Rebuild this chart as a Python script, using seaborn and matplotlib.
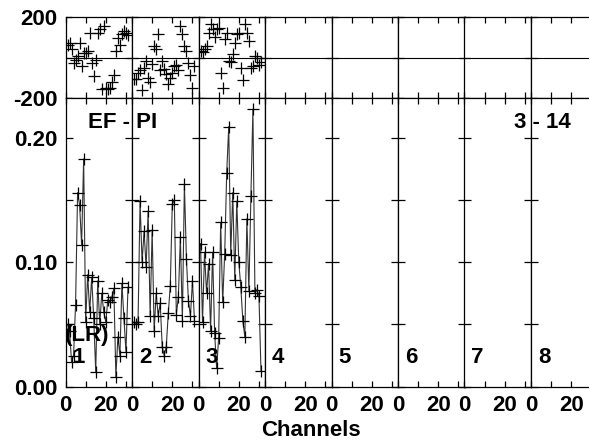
import numpy as np
import pandas as pd
import seaborn as sns
import matplotlib.pyplot as plt

# channel numbers per IF panel
channels = list(range(1, 32))

# amplitudes (bottom row), IF 1-3
amp_if1 = [0.050, 0.045, 0.020, 0.025, 0.066, 0.156, 0.146, 0.114, 0.183, 0.052,
           0.090, 0.060, 0.088, 0.055, 0.012, 0.085, 0.050, 0.075, 0.060, 0.052,
           0.070, 0.068, 0.072, 0.079, 0.008, 0.040, 0.025, 0.083, 0.055, 0.028, 0.080]
amp_if2 = [0.052, 0.050, 0.052, 0.149, 0.100, 0.125, 0.096, 0.141, 0.057, 0.126,
           0.045, 0.075, 0.057, 0.067, 0.032, 0.025, 0.032, 0.059, 0.081, 0.147,
           0.150, 0.058, 0.072, 0.120, 0.053, 0.163, 0.103, 0.069, 0.057, 0.085, 0.053]
amp_if3 = [0.115, 0.052, 0.108, 0.075, 0.099, 0.045, 0.108, 0.043, 0.015, 0.039,
           0.132, 0.068, 0.107, 0.172, 0.209, 0.106, 0.156, 0.086, 0.149, 0.100,
           0.080, 0.053, 0.040, 0.135, 0.077, 0.153, 0.223, 0.075, 0.078, 0.073, 0.013]

# phases (top row), IF 1-3
ph_if1 = [60, 72, 40, -26, -10, 7, 72, -40, 23, 23, 30, 122, -26, -92, -10, 122,
          142, -158, 158, -150, -158, -150, -120, -84, 31, 97, 60, 114, 130, 122, 110]
ph_if2 = [-105, -105, -76, -64, -161, -51, -18, -100, -122, -30, 59, 40, 118, -60,
          -18, -59, -80, -133, -100, -79, -43, -35, -60, 158, 114, 56, 31, -26, -84, -150, -40]
ph_if3 = [31, 25, 40, 56, 122, 163, 142, 100, 140, 147, -76, -150, 92, 120, -18,
          -23, 15, 72, 114, 122, -51, -109, 163, 122, 80, -51, -43, 7, -2, -35, -20]

amps = [amp_if1, amp_if2, amp_if3]
phases = [ph_if1, ph_if2, ph_if3]
n_panels = 8

sns.set_style("ticks")
plt.rcParams['font.family'] = ['Liberation Sans', 'DejaVu Sans']
plt.rcParams['font.weight'] = 'bold'
for key in ['text.color', 'axes.labelcolor', 'xtick.color', 'ytick.color', 'axes.edgecolor']:
    plt.rcParams[key] = 'black'

FS = 16
W, H = 589, 440
fig = plt.figure(figsize=(W / 100, H / 100), dpi=100)

x0 = 65.5
pw = 66.5
top_y0, top_y1 = 17, 98
bot_y0, bot_y1 = 98, 386.7

for i in range(n_panels):
    left = (x0 + i * pw) / W
    ax_t = fig.add_axes([left, (H - top_y1) / H, pw / W, (top_y1 - top_y0) / H])
    ax_b = fig.add_axes([left, (H - bot_y1) / H, pw / W, (bot_y1 - bot_y0) / H])

    if i < len(amps):
        df = pd.DataFrame({'ch': channels, 'amp': amps[i], 'phase': phases[i]})
        sns.scatterplot(data=df, x='ch', y='phase', marker='+', s=80,
                        color='black', linewidth=0.9, ax=ax_t, legend=False)
        sns.lineplot(data=df, x='ch', y='amp', color='#333333', linewidth=0.8,
                     marker='+', markersize=9, markeredgecolor='black',
                     markeredgewidth=0.9, ax=ax_b, legend=False)

    ax_t.axhline(0, color='black', linewidth=0.8)

    for ax in (ax_t, ax_b):
        ax.set_xlim(0, 33)
        ax.set_xlabel('')
        ax.set_ylabel('')
        ax.set_xticks([0, 10, 20, 30])
        for s in ax.spines.values():
            s.set_visible(True)
            s.set_linewidth(0.9)
            s.set_color('black')
        ax.tick_params(axis='both', direction='in', top=True, bottom=True,
                       left=True, right=True, width=0.9, color='black',
                       labelcolor='black', labelsize=FS)

    ax_t.set_ylim(-200, 200)
    ax_t.set_yticks([-200, 0, 200])
    ax_t.tick_params(axis='x', length=4, labelbottom=False)
    ax_t.tick_params(axis='y', length=4, pad=6)

    ax_b.set_ylim(0, 0.232)
    ax_b.set_yticks([0, 0.05, 0.10, 0.15, 0.20])
    ax_b.tick_params(axis='x', length=4, pad=6)
    ax_b.tick_params(axis='y', length=5, pad=6)
    ax_b.set_xticklabels(['0', '', '20', ''], fontweight='bold')

    if i == 0:
        ax_t.set_yticklabels(['-200', '', '200'], fontweight='bold')
        ax_b.set_yticklabels(['0.00', '', '0.10', '', '0.20'], fontweight='bold')
    else:
        ax_t.set_yticklabels([])
        ax_b.set_yticklabels([])

    fig.text((x0 + i * pw + 7) / W, 1 - 357 / H, str(i + 1), fontsize=FS,
             fontweight='bold', va='center', ha='left')

fig.text(88 / W, 1 - 122 / H, 'EF - PI', fontsize=FS, fontweight='bold', va='center', ha='left')
fig.text(514 / W, 1 - 123 / H, '3 - 14', fontsize=FS, fontweight='bold', va='center', ha='left')
fig.text(65 / W, 1 - 335 / H, '(LR)', fontsize=FS, fontweight='bold', va='center', ha='left')
fig.text(311 / W, 1 - 430 / H, 'Channels', fontsize=FS, fontweight='bold', va='center', ha='center')

fig.savefig('out.png', dpi=100)
